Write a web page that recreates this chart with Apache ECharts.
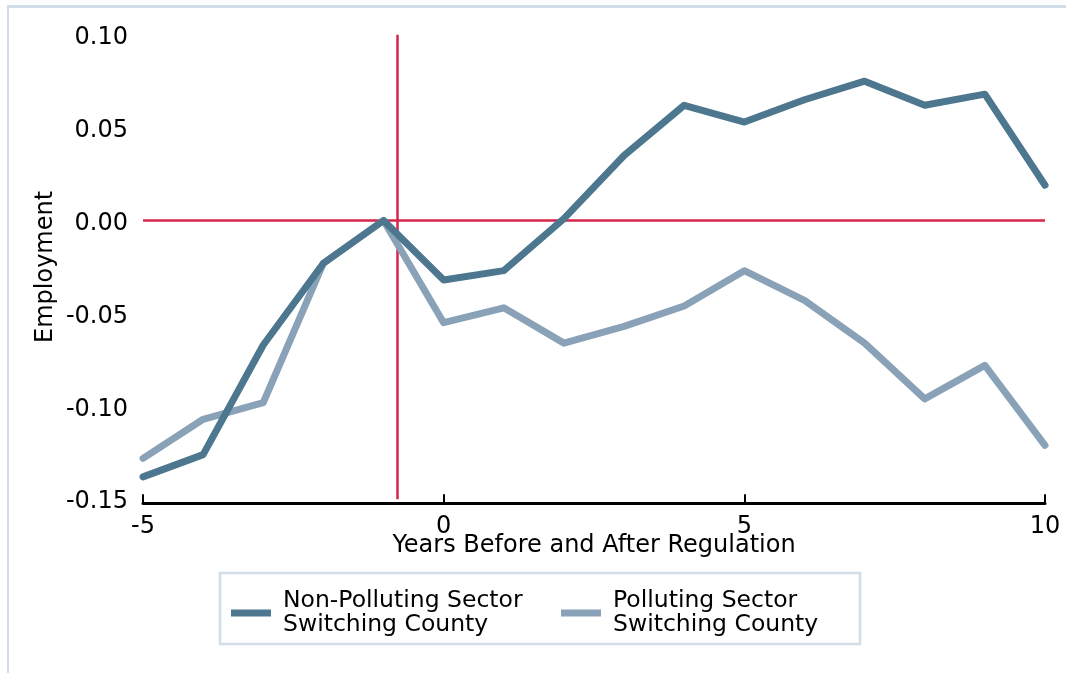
<!DOCTYPE html>
<html>
<head>
<meta charset="utf-8">
<script src="https://cdn.jsdelivr.net/npm/echarts@6/dist/echarts.min.js"></script>
<style>
html,body{margin:0;padding:0;background:#fff;}
#chart{width:1066px;height:673px;}
</style>
</head>
<body>
<div id="chart"></div>
<script>
// ---- data ----
const years = [-5,-4,-3,-2,-1,0,1,2,3,4,5,6,7,8,9,10];
const nonPolluting = [-0.138,-0.126,-0.067,-0.023,0.000,-0.032,-0.027,0.001,0.035,0.062,0.053,0.065,0.075,0.062,0.068,0.019];
const polluting = [-0.128,-0.107,-0.098,-0.023,0.000,-0.055,-0.047,-0.066,-0.057,-0.046,-0.027,-0.043,-0.066,-0.096,-0.078,-0.121];
const seriesNames = ['Non-Polluting Sector\nSwitching County','Polluting Sector\nSwitching County'];
const xTitle = 'Years Before and After Regulation';
const yTitle = 'Employment';
const regulationLine = -0.78;

const FONT = 'DejaVu Sans';
const chart = echarts.init(document.getElementById('chart'));
const pair = (xs, ys) => xs.map((x, i) => [x, ys[i]]);

const legendBase = {
  top: 589, padding: 0, icon: 'rect', itemWidth: 40, itemHeight: 7,
  lineStyle: {width: 0, opacity: 0},
  textStyle: {fontFamily: FONT, fontSize: 23.5, color: '#000', lineHeight: 24, padding: [0,0,0,7]}
};

chart.setOption({
  animation: false,
  backgroundColor: '#fff',
  textStyle: {fontFamily: FONT, color: '#000'},
  grid: {left: 143, right: 21, top: 34.7, bottom: 173.8, containLabel: false},
  xAxis: {
    type: 'value', min: -5, max: 10, interval: 5, offset: 4,
    name: xTitle, nameLocation: 'middle', nameGap: 31, nameMoveOverlap: false,
    nameTextStyle: {fontFamily: FONT, fontSize: 24, color: '#000', lineHeight: 24},
    axisLine: {show: true, onZero: false, lineStyle: {color: '#000', width: 3}},
    axisTick: {show: true, inside: true, length: 9, lineStyle: {color: '#000', width: 2}},
    axisLabel: {fontFamily: FONT, fontSize: 24, color: '#000', margin: 12, lineHeight: 24},
    splitLine: {show: false}
  },
  yAxis: {
    type: 'value', min: -0.15, max: 0.10, interval: 0.05,
    name: yTitle, nameLocation: 'middle', nameGap: 85, nameRotate: 90, nameMoveOverlap: false,
    nameTextStyle: {fontFamily: FONT, fontSize: 24, color: '#000', lineHeight: 24},
    axisLine: {show: false}, axisTick: {show: false},
    axisLabel: {margin: 15,
      formatter: v => '{v|' + (Math.abs(v) < 1e-9 ? 0 : v).toFixed(2) + '}',
      rich: {v: {fontFamily: FONT, fontSize: 24, color: '#000', lineHeight: 24, padding: [6,0,0,0]}}},
    splitLine: {show: false}
  },
  legend: [
    Object.assign({data: [seriesNames[0]], left: 231}, legendBase),
    Object.assign({data: [seriesNames[1]], left: 561}, legendBase)
  ],
  graphic: [
    {type: 'line', shape: {x1: 7, y1: 6.5, x2: 1066, y2: 6.5}, style: {stroke: '#d3dde7', lineWidth: 3}, silent: true},
    {type: 'line', shape: {x1: 8, y1: 5, x2: 8, y2: 673}, style: {stroke: '#d3dde7', lineWidth: 2}, silent: true},
    {type: 'rect', shape: {x: 220, y: 573, width: 640, height: 71}, style: {fill: 'none', stroke: '#d3dde7', lineWidth: 2.5}, silent: true}
  ],
  series: [
    {
      type: 'line', name: 'refs', data: [], z: 1, silent: true,
      markLine: {
        silent: true, symbol: 'none', animation: false, z: 1,
        label: {show: false},
        lineStyle: {color: '#d6254b', width: 2.5, type: 'solid'},
        data: [
          [{coord: [-5, 0]}, {coord: [10, 0]}],
          {xAxis: regulationLine}
        ]
      }
    },
    {
      type: 'line', name: seriesNames[0], data: pair(years, nonPolluting), z: 3,
      showSymbol: false, symbol: 'none', color: '#4d778f',
      itemStyle: {color: '#4d778f'},
      lineStyle: {width: 7, color: '#4d778f', cap: 'round', join: 'round'}
    },
    {
      type: 'line', name: seriesNames[1], data: pair(years, polluting), z: 2,
      showSymbol: false, symbol: 'none', color: '#8aa2b7',
      itemStyle: {color: '#8aa2b7'},
      lineStyle: {width: 7, color: '#8aa2b7', cap: 'round', join: 'round'}
    }
  ]
});
</script>
</body>
</html>
